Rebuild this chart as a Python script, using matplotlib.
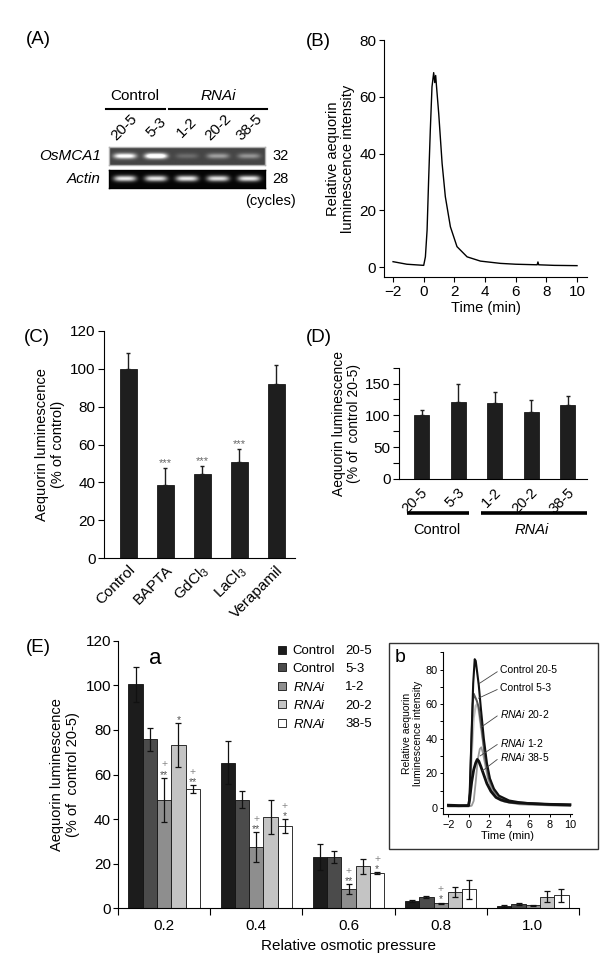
import numpy as np
import matplotlib
matplotlib.use("Agg")
import matplotlib.pyplot as plt
from matplotlib.patches import Rectangle
from matplotlib.lines import Line2D
from matplotlib.transforms import ScaledTranslation, blended_transform_factory

plt.rcParams["font.family"] = ["Liberation Sans", "DejaVu Sans"]
plt.rcParams["mathtext.fontset"] = "custom"
plt.rcParams["mathtext.rm"] = "Liberation Sans"
plt.rcParams["mathtext.it"] = "Liberation Sans:italic"
plt.rcParams["axes.linewidth"] = 0.8
plt.rcParams["xtick.direction"] = "out"
plt.rcParams["ytick.direction"] = "out"

# ---- data ----
lanes = ["20-5", "5-3", "1-2", "20-2", "38-5"]
osmca1_band = [0.80, 1.00, 0.16, 0.36, 0.32]
actin_band = [0.92, 0.90, 0.92, 0.88, 0.92]

b_time = [-2.0, -1.1, 0.0, 0.11, 0.22, 0.32, 0.43, 0.54, 0.65, 0.72, 0.78, 0.83,
          0.98, 1.2, 1.41, 1.74, 2.17, 2.83, 3.7, 5.0, 6.0, 7.4, 7.45, 7.5, 8.5, 10.0]
b_lum = [1.9, 1.0, 0.6, 3.6, 13.0, 30.6, 48.2, 63.5, 68.5, 65.0, 67.5, 64.0,
         54.0, 36.5, 24.8, 14.2, 7.2, 3.6, 2.1, 1.3, 1.0, 0.8, 1.8, 0.8, 0.6, 0.5]

c_labels = ["Control", "BAPTA", "GdCl$_3$", "LaCl$_3$", "Verapamil"]
c_mean = [100, 38.5, 44.5, 51, 92]
c_err = [8.5, 9, 4, 6.5, 10]
c_sig = ["", "***", "***", "***", ""]

d_mean = [100.5, 121, 120, 106, 116]
d_err = [8, 29, 17.5, 18, 15]

pressures = ["0.2", "0.4", "0.6", "0.8", "1.0"]
e_names = ["Control", "Control", "$\\mathit{RNAi}$", "$\\mathit{RNAi}$", "$\\mathit{RNAi}$"]
e_lines = ["20-5", "5-3", "1-2", "20-2", "38-5"]
e_c205 = [100.4, 65.4, 23.1, 3.3, 1.0]
e_c205_err = [7.8, 9.7, 5.7, 0.6, 0.3]
e_c53 = [75.8, 48.7, 23.1, 5.2, 2.1]
e_c53_err = [5.3, 3.8, 2.7, 0.4, 0.4]
e_r12 = [48.7, 27.5, 8.5, 2.2, 1.3]
e_r12_err = [9.9, 6.7, 2.2, 0.4, 0.2]
e_r202 = [73.3, 40.9, 18.8, 7.2, 5.2]
e_r202_err = [9.7, 7.5, 3.5, 2.3, 2.4]
e_r385 = [53.4, 37.0, 15.8, 8.5, 5.8]
e_r385_err = [1.8, 3.0, 0.4, 4.2, 2.9]
e_r12_star = ["**", "**", "**", "*", ""]
e_r12_plus = ["+", "+", "+", "+", ""]
e_r202_star = ["*", "", "", "", ""]
e_r385_star = ["**", "*", "*", "", ""]
e_r385_plus = ["+", "+", "+", "", ""]

t_c205 = [-2, -1, -0.2, 0.0, 0.1, 0.25, 0.45, 0.6, 0.7, 0.85, 1.0, 1.2, 1.5, 1.8, 2.1, 2.5, 3, 4, 5, 6, 8, 10]
v_c205 = [1.2, 1.0, 1.1, 1.5, 8, 35, 72, 86, 85, 78, 71, 58, 40, 26, 17, 11, 7, 4.2, 3.2, 2.6, 2.0, 1.6]
t_c53 = [-2, -1, 0, 0.1, 0.25, 0.4, 0.5, 0.65, 0.8, 1.0, 1.3, 1.6, 2.0, 2.5, 3, 4, 6, 10]
v_c53 = [1.0, 1.0, 1.0, 6, 35, 60, 66, 64, 62, 58, 45, 30, 17, 10, 6.5, 3.5, 2.2, 1.3]
t_r202 = [-2, 0, 0.1, 0.3, 0.5, 0.7, 0.85, 1.0, 1.2, 1.5, 1.8, 2.2, 2.6, 3, 4, 6, 10]
v_r202 = [1.0, 1.0, 5, 30, 52, 59, 60, 56, 47, 35, 24, 14, 9, 6, 3.5, 2, 1.2]
t_r12 = [-2, 0, 0.3, 0.5, 0.7, 0.9, 1.1, 1.25, 1.4, 1.6, 1.9, 2.3, 2.8, 3.5, 5, 10]
v_r12 = [0.8, 0.8, 1.2, 4, 15, 28, 34, 35, 32, 26, 17, 10, 6, 3.5, 2, 1.0]
t_r385 = [-2, -1, 0, 0.1, 0.3, 0.5, 0.7, 0.85, 1.0, 1.2, 1.5, 1.8, 2.2, 2.7, 3.2, 4, 5, 6, 8, 10]
v_r385 = [1.5, 1.3, 1.3, 5, 15, 22, 26, 28, 27, 24, 19, 14, 9.5, 6, 4.5, 3.3, 2.8, 2.5, 2.0, 1.8]

# ---- figure ----
W, H = 600, 959
fig = plt.figure(figsize=(6, 9.59), dpi=100)


def box(l, t, r, b):
    return [l / W, 1 - b / H, (r - l) / W, (b - t) / H]


def ftext(x, y, s, **kw):
    return fig.text(x / W, 1 - y / H, s, **kw)


def fline(x0, x1, y, lw):
    fig.add_artist(Line2D([x0 / W, x1 / W], [1 - y / H, 1 - y / H], color="black", lw=lw))


def clean(ax):
    ax.spines["top"].set_visible(False)
    ax.spines["right"].set_visible(False)


# panel labels
for lab, x, y in [("(A)", 38, 40), ("(B)", 318, 41), ("(C)", 37, 337), ("(D)", 319, 338), ("(E)", 38, 647)]:
    ftext(x, y, lab, fontsize=13.5, ha="center", va="center")

# ---- (A) gel ----
def gel_image(levels, bg, ncols=160, nrows=20):
    xs = np.linspace(-0.5, 4.5, ncols)
    ys = np.linspace(-1, 1, nrows)
    img = np.full((nrows, ncols), bg)
    for i, lv in enumerate(levels):
        px = np.exp(-np.abs((xs - i) / 0.36) ** 4)
        py = np.exp(-(ys / 0.32) ** 2)
        img = img + lv * np.outer(py, px)
    return np.clip(img, 0, 1)


gel1 = fig.add_axes(box(109, 147, 265, 165))
gel1.imshow(gel_image(osmca1_band, 0.27), cmap="gray", vmin=0, vmax=1, aspect="auto",
            extent=(-0.5, 4.5, -1, 1), interpolation="bilinear")
gel2 = fig.add_axes(box(109, 170, 265, 188.3))
gel2.imshow(gel_image(actin_band, 0.02), cmap="gray", vmin=0, vmax=1, aspect="auto",
            extent=(-0.5, 4.5, -1, 1), interpolation="bilinear")
for g, ec in [(gel1, "#b0b0b0"), (gel2, "black")]:
    g.set_xticks([])
    g.set_yticks([])
    for s in g.spines.values():
        s.set_color(ec)
        s.set_linewidth(1.0)

tr = blended_transform_factory(gel1.transData, fig.transFigure)
for i, lane in enumerate(lanes):
    gel1.text(i, 1 - 127 / H, lane, transform=tr, rotation=45, rotation_mode="anchor",
              ha="center", va="center", fontsize=11)
ftext(135, 96, "Control", fontsize=11, ha="center", va="center")
ftext(218, 96, "RNAi", fontsize=11, ha="center", va="center", style="italic")
fline(106, 165, 109, 1.5)
fline(169, 267, 109, 1.5)
ftext(101, 156, "OsMCA1", fontsize=11, ha="right", va="center", style="italic")
ftext(101, 179.5, "Actin", fontsize=11, ha="right", va="center", style="italic")
ftext(272, 156, "32", fontsize=10.5, ha="left", va="center")
ftext(272, 179.5, "28", fontsize=10.5, ha="left", va="center")
ftext(270, 201, "(cycles)", fontsize=10.5, ha="center", va="center")

# ---- (B) ----
axB = fig.add_axes(box(384, 40, 587, 277))
axB.plot(b_time, b_lum, color="black", lw=1.0)
axB.set_xlim(-2.59, 10.65)
axB.set_ylim(-3.5, 80)
axB.set_xticks(range(-2, 11, 2))
axB.set_yticks(range(0, 81, 20))
axB.tick_params(labelsize=11, length=3.5, width=0.8, pad=2)
axB.set_xlabel("Time (min)", fontsize=10.5, labelpad=2)
axB.set_ylabel("Relative aequorin\nluminescence intensity", fontsize=10.5, labelpad=3, linespacing=1.1)
clean(axB)

# ---- (C) ----
axC = fig.add_axes(box(104, 330.7, 295, 558.3))
xc = np.arange(len(c_mean))
axC.bar(xc, c_mean, 0.46, color="#1e1e1e", edgecolor="black", linewidth=0.5)
axC.errorbar(xc, c_mean, yerr=[np.zeros(len(c_err)), c_err], fmt="none", ecolor="#1e1e1e",
             elinewidth=1.0, capsize=1.5, capthick=1.0)
for x, m, e, s in zip(xc, c_mean, c_err, c_sig):
    if s:
        axC.annotate(s, (x, m + e), xytext=(0, 1.5), textcoords="offset points",
                     ha="center", va="baseline", fontsize=8, color="#666666")
axC.set_xlim(-0.65, 4.51)
axC.set_ylim(0, 120)
axC.set_yticks(range(0, 121, 20))
axC.set_xticks(xc)
axC.set_xticklabels(c_labels, rotation=45, ha="right", va="center", rotation_mode="anchor")
axC.tick_params(axis="x", length=0, pad=7, labelsize=11)
axC.tick_params(axis="y", labelsize=11, length=4, width=0.8, pad=2)
for lab in axC.get_xticklabels():
    lab.set_transform(lab.get_transform() + ScaledTranslation(0.05, 0, fig.dpi_scale_trans))
axC.set_ylabel("Aequorin luminescence\n(% of control)", fontsize=10.5, labelpad=4, linespacing=1.15)
clean(axC)

# ---- (D) ----
axD = fig.add_axes(box(399, 367.7, 587, 479))
xd = np.arange(len(d_mean))
axD.bar(xd, d_mean, 0.41, color="#1e1e1e", edgecolor="black", linewidth=0.5)
axD.errorbar(xd, d_mean, yerr=[np.zeros(len(d_err)), d_err], fmt="none", ecolor="#1e1e1e",
             elinewidth=1.0, capsize=1.5, capthick=1.0)
axD.set_xlim(-0.62, 4.52)
axD.set_ylim(0, 175)
axD.set_yticks(range(0, 151, 50))
axD.set_yticks(range(25, 176, 50), minor=True)
axD.set_xticks(xd)
axD.set_xticklabels(lanes, rotation=45, ha="right", va="center", rotation_mode="anchor")
axD.tick_params(axis="x", length=0, pad=8, labelsize=10.5)
axD.tick_params(axis="y", which="both", labelsize=11, length=4, width=0.8, pad=2)
for lab in axD.get_xticklabels():
    lab.set_transform(lab.get_transform() + ScaledTranslation(0.04, 0, fig.dpi_scale_trans))
axD.set_ylabel("Aequorin luminescence\n(% of  control 20-5)", fontsize=10, labelpad=3, linespacing=1.1)
clean(axD)
trD = blended_transform_factory(axD.transData, axD.transAxes)
axD.plot([-0.40, 1.29], [-0.308, -0.308], color="black", lw=2.6, transform=trD, clip_on=False,
         solid_capstyle="butt")
axD.plot([1.62, 4.52], [-0.308, -0.308], color="black", lw=2.6, transform=trD, clip_on=False,
         solid_capstyle="butt")
ftext(437, 530, "Control", fontsize=10.5, ha="center", va="center")
ftext(532, 530, "RNAi", fontsize=10.5, ha="center", va="center", style="italic")

# ---- (E) ----
axE = fig.add_axes(box(118, 640.8, 579, 908.3))
bw = 0.155
xe = np.arange(len(pressures)) + 0.5
series = [
    (e_c205, e_c205_err, "#1c1c1c"),
    (e_c53, e_c53_err, "#4b4b4b"),
    (e_r12, e_r12_err, "#8e8e8e"),
    (e_r202, e_r202_err, "#c4c4c4"),
    (e_r385, e_r385_err, "#ffffff"),
]
handles = []
for i, (m, e, c) in enumerate(series):
    xi = xe + (i - 2) * bw
    axE.bar(xi, m, bw, color=c, edgecolor="#111111", linewidth=0.6)
    axE.errorbar(xi, m, yerr=e, fmt="none", ecolor="#111111", elinewidth=0.9, capsize=2.2, capthick=0.9)
    handles.append(Line2D([], [], marker="s", linestyle="none", markersize=5.5,
                          markerfacecolor=c, markeredgecolor="#111111", markeredgewidth=0.6))


def mark(idx, vals, errs, labels, dy, size, color):
    for j, s in enumerate(labels):
        if s:
            axE.annotate(s, (xe[j] + (idx - 2) * bw, vals[j] + errs[j]), xytext=(0, dy),
                         textcoords="offset points", ha="center", va="baseline",
                         fontsize=size, color=color)


mark(2, e_r12, e_r12_err, e_r12_star, 0.0, 7.5, "#555555")
mark(2, e_r12, e_r12_err, e_r12_plus, 7.5, 7.5, "#888888")
mark(3, e_r202, e_r202_err, e_r202_star, 0.0, 7.5, "#555555")
mark(4, e_r385, e_r385_err, e_r385_star, 0.0, 7.5, "#555555")
mark(4, e_r385, e_r385_err, e_r385_plus, 7.5, 7.5, "#888888")

axE.set_xlim(0, 5)
axE.set_ylim(0, 120)
axE.set_yticks(range(0, 121, 20))
axE.set_xticks(range(0, 6))
axE.set_xticklabels([])
axE.set_xticks(xe, minor=True)
axE.set_xticklabels(pressures, minor=True)
axE.tick_params(axis="x", which="major", length=5, width=0.8)
axE.tick_params(axis="x", which="minor", length=0, pad=8, labelsize=11)
axE.tick_params(axis="y", labelsize=11, length=3.5, width=0.8, pad=1.5)
axE.set_xlabel("Relative osmotic pressure", fontsize=11, labelpad=4)
axE.set_ylabel("Aequorin luminescence\n(% of  control 20-5)", fontsize=10.5, labelpad=4, linespacing=1.15)
clean(axE)
ftext(155, 658, "a", fontsize=16, ha="center", va="center")

leg = fig.legend(handles, e_names, loc="upper left", bbox_to_anchor=(277 / W, 1 - 645 / H),
                 frameon=False, fontsize=9.5, handlelength=0.7, handletextpad=0.5,
                 labelspacing=0.42, borderpad=0, borderaxespad=0)
fig.canvas.draw()
for txt, num in zip(leg.get_texts(), e_lines):
    bb = txt.get_window_extent()
    fig.text(345 / W, (bb.y0 + bb.y1) / 2 / fig.bbox.height, num, fontsize=9.5, ha="left", va="center")

# ---- inset b ----
fig.add_artist(Rectangle((389 / W, 1 - 849 / H), 209 / W, 206 / H, transform=fig.transFigure,
                         fill=False, edgecolor="#333333", lw=1.0))
axI = fig.add_axes(box(443.3, 652.3, 571.7, 814))
axI.plot(t_r202, v_r202, color="#c0c0c0", lw=1.6)
axI.plot(t_r12, v_r12, color="#9a9a9a", lw=1.3)
axI.plot(t_c53, v_c53, color="#555555", lw=1.4)
axI.plot(t_c205, v_c205, color="#111111", lw=1.5)
axI.plot(t_r385, v_r385, color="#111111", lw=2.0)
notes = [("Control 20-5", 1.06, 72, 79.8), ("Control 5-3", 0.96, 63.4, 69.2),
         ("$\\mathit{RNAi}$ 20-2", 1.22, 46.6, 54.3), ("$\\mathit{RNAi}$ 1-2", 1.13, 30, 37.7),
         ("$\\mathit{RNAi}$ 38-5", 1.36, 21.4, 29.2)]
for s, tx, ty, ly in notes:
    axI.annotate(s, (tx, ty), xytext=(3.1, ly), textcoords="data", ha="left", va="center",
                 fontsize=7.5, arrowprops=dict(arrowstyle="-", color="#444444", lw=0.6,
                                                shrinkA=0, shrinkB=0, relpos=(0, 0.5)))
axI.set_xlim(-2.5, 10.17)
axI.set_ylim(-3.6, 90)
axI.set_xticks(range(-2, 11, 2))
axI.set_yticks(range(0, 81, 20))
axI.set_yticks(range(10, 91, 20), minor=True)
axI.tick_params(which="both", labelsize=7.8, length=2.5, width=0.7, pad=1.5)
axI.set_xlabel("Time (min)", fontsize=8, labelpad=1)
axI.set_ylabel("Relative aequorin\nluminescence intensity", fontsize=7.5, labelpad=2, linespacing=1.05)
clean(axI)
ftext(400, 657, "b", fontsize=14, ha="center", va="center")

fig.savefig("out.png", dpi=100)
